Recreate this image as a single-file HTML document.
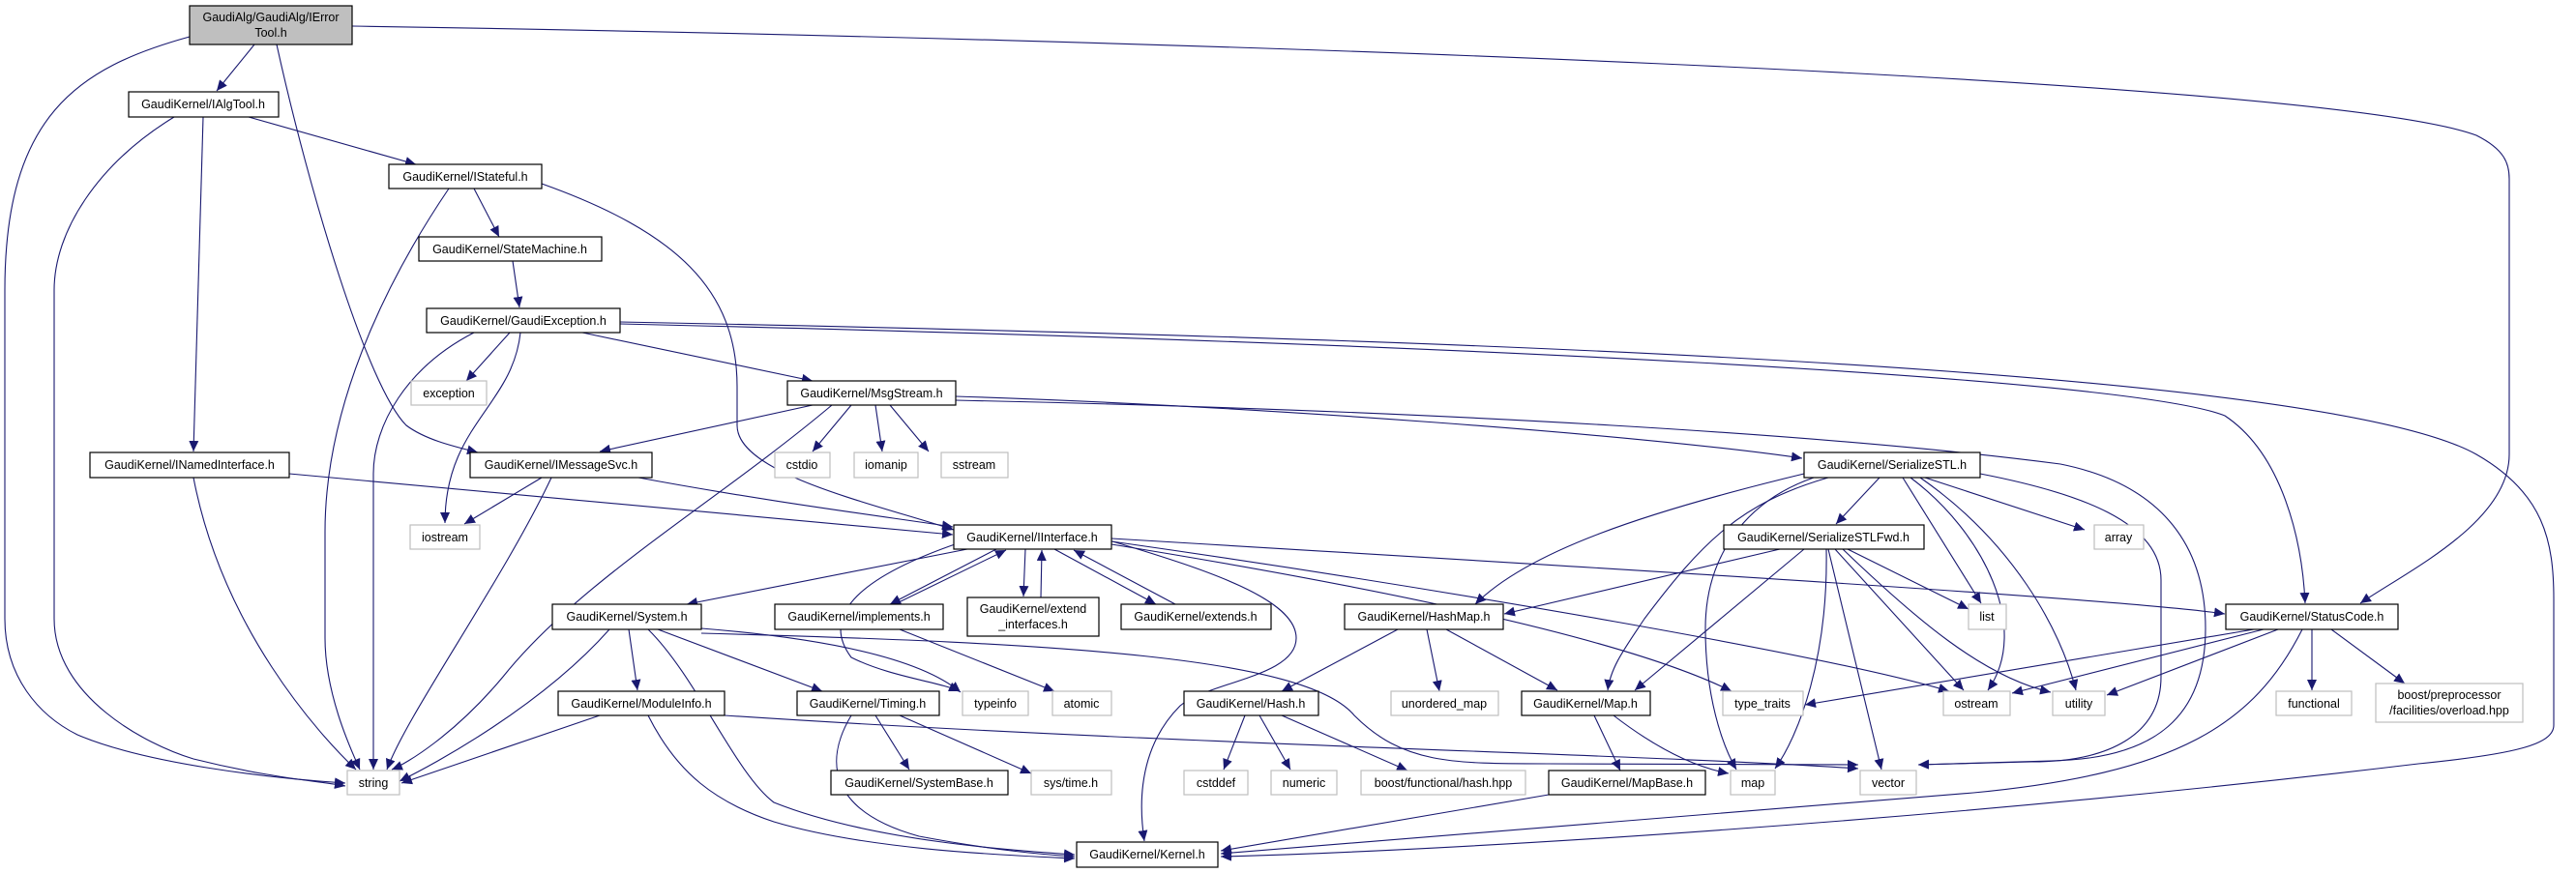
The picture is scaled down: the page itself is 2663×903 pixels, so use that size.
<!DOCTYPE html>
<html><head><meta charset="utf-8"><style>
html,body{margin:0;padding:0;background:#fff}
svg{display:block}
text{font-family:"Liberation Sans",sans-serif;font-size:12.5px;fill:#000;text-anchor:middle}
.n{fill:#fff;stroke:#000;stroke-width:1.2}
.g{fill:#fff;stroke:#bfbfbf;stroke-width:1.2}
.e{fill:none;stroke:#191970;stroke-width:1.1}
</style></head><body>
<svg width="2663" height="903" viewBox="0 0 2663 903" xmlns="http://www.w3.org/2000/svg">
<defs><marker id="a" markerUnits="userSpaceOnUse" markerWidth="12" markerHeight="10" refX="11" refY="5" orient="auto"><path d="M0,0 L11,5 L0,10 z" fill="#191970"/></marker></defs>
<g class="e" marker-end="url(#a)">
<path d="M196,38 C80,70 5,120 5,300 L5,640 C5,700 40,740 80,760 C150,790 280,805 357,810"/>
<path d="M364,27 C1200,40 2400,80 2560,140 C2590,155 2594,170 2594,185 L2594,470 C2594,540 2490,590 2440,624"/>
<path d="M263,46 L224,94"/>
<path d="M286,46 C320,200 380,400 420,440 C440,455 470,462 494,468"/>
<path d="M257,121 L430,170"/>
<path d="M210,121 L200,467"/>
<path d="M180,121 C100,170 56,240 56,300 L56,640 C56,720 150,770 200,785 C280,805 330,808 357,813"/>
<path d="M490,195 L516,245"/>
<path d="M464,195 C420,260 336,400 336,550 L336,660 C336,720 365,780 372,796"/>
<path d="M560,190 C700,240 762,300 762,400 L762,440 C762,490 900,520 986,548"/>
<path d="M530,270 L537,318"/>
<path d="M527,344 L482,394"/>
<path d="M490,344 C420,380 386,440 386,490 L386,796"/>
<path d="M538,344 C530,420 460,440 460,541"/>
<path d="M602,344 L840,394"/>
<path d="M641,333 C1500,350 2400,380 2560,470 C2630,510 2640,560 2640,620 L2640,750 C2640,770 2600,780 2500,790 C2000,850 1500,880 1262,886"/>
<path d="M641,335 C1500,355 2200,390 2300,430 C2360,470 2380,560 2383,624"/>
<path d="M840,419 L620,467"/>
<path d="M860,419 C740,520 600,600 520,700 C470,760 420,790 405,796"/>
<path d="M880,419 L840,467"/>
<path d="M905,419 L912,467"/>
<path d="M920,419 L960,467"/>
<path d="M988,410 C1300,420 1700,450 1863,474"/>
<path d="M988,414 C1500,425 1900,450 2130,480 C2230,500 2280,560 2280,650 C2280,740 2230,785 2120,787 L1983,791"/>
<path d="M2047,490 C2150,510 2234,540 2234,600 L2234,700 C2234,760 2180,788 2100,788 L1983,791"/>
<path d="M660,494 C800,520 920,535 985,545"/>
<path d="M560,494 L480,542"/>
<path d="M570,494 C520,600 420,740 400,796"/>
<path d="M299,490 L985,553"/>
<path d="M200,494 C230,650 330,760 368,796"/>
<path d="M1000,568 L710,625"/>
<path d="M1030,568 L920,625"/>
<path d="M925,625 L1040,569"/>
<path d="M1060,568 L1058,617"/>
<path d="M1076,618 L1077,569"/>
<path d="M1090,568 L1195,625"/>
<path d="M1215,625 L1110,569"/>
<path d="M990,562 C880,600 850,640 880,680 C920,700 970,705 992,715"/>
<path d="M725,650 C850,660 950,680 993,716"/>
<path d="M1150,560 C1250,590 1340,620 1340,660 C1340,700 1250,705 1220,730 C1170,780 1180,850 1183,870"/>
<path d="M1149,557 C1700,590 2200,620 2300,635"/>
<path d="M1149,560 C1500,610 1900,680 2015,715"/>
<path d="M1149,563 C1500,620 1700,670 1790,715"/>
<path d="M930,651 L1090,715"/>
<path d="M630,651 C560,730 450,790 413,808"/>
<path d="M650,651 L659,714"/>
<path d="M680,651 L850,715"/>
<path d="M670,651 C720,700 760,800 800,830 C900,870 1050,880 1111,884"/>
<path d="M725,655 C1100,665 1350,680 1400,740 C1450,790 1500,790 1600,790 L1921,791"/>
<path d="M620,740 L415,810"/>
<path d="M670,740 C700,800 740,830 800,850 C900,880 1050,885 1111,888"/>
<path d="M749,740 C1200,770 1700,780 1921,795"/>
<path d="M905,740 L940,796"/>
<path d="M930,740 L1066,800"/>
<path d="M880,740 C850,790 860,840 950,865 C1030,880 1080,884 1111,886"/>
<path d="M1943,494 L1898,542"/>
<path d="M1865,490 C1700,530 1580,570 1525,625"/>
<path d="M1890,494 C1800,520 1760,560 1700,640 C1680,670 1665,690 1662,714"/>
<path d="M1990,494 L2155,548"/>
<path d="M1967,494 L2048,624"/>
<path d="M1975,494 C2050,550 2100,650 2055,714"/>
<path d="M1985,494 C2080,560 2130,650 2146,714"/>
<path d="M1875,494 C1800,520 1763,580 1763,650 C1763,720 1780,770 1795,796"/>
<path d="M1840,568 L1555,635"/>
<path d="M1865,568 L1690,714"/>
<path d="M1910,568 L2035,630"/>
<path d="M1897,568 L2030,714"/>
<path d="M1905,568 C1980,640 2050,700 2120,716"/>
<path d="M1888,568 C1890,680 1860,760 1835,795"/>
<path d="M1890,568 L1945,796"/>
<path d="M1445,651 L1325,715"/>
<path d="M1475,651 L1488,715"/>
<path d="M1495,651 L1610,714"/>
<path d="M1287,740 L1265,796"/>
<path d="M1302,740 L1334,796"/>
<path d="M1325,740 L1455,797"/>
<path d="M1648,740 L1675,797"/>
<path d="M1668,740 C1720,780 1760,795 1787,800"/>
<path d="M1601,822 L1262,880"/>
<path d="M2340,651 L2080,717"/>
<path d="M2355,651 L2178,719"/>
<path d="M2330,651 L1866,729"/>
<path d="M2390,651 L2390,714"/>
<path d="M2410,651 L2486,707"/>
<path d="M2380,651 C2330,750 2250,800 2040,820 C1700,850 1400,870 1262,883"/>
</g>
<g>
<rect x="196" y="6" width="168" height="40" fill="#bfbfbf" stroke="#000" stroke-width="1.2"/>
<text x="280" y="22">GaudiAlg/GaudiAlg/IError</text><text x="280" y="38">Tool.h</text>
<rect class="n" x="133" y="95" width="155" height="26"/><text x="210" y="112">GaudiKernel/IAlgTool.h</text>
<rect class="n" x="402" y="170" width="158" height="25"/><text x="481" y="187">GaudiKernel/IStateful.h</text>
<rect class="n" x="433" y="245" width="189" height="25"/><text x="527" y="262">GaudiKernel/StateMachine.h</text>
<rect class="n" x="441" y="319" width="200" height="25"/><text x="541" y="336">GaudiKernel/GaudiException.h</text>
<rect class="g" x="425" y="394" width="78" height="25"/><text x="464" y="411">exception</text>
<rect class="n" x="814" y="394" width="174" height="25"/><text x="901" y="411">GaudiKernel/MsgStream.h</text>
<rect class="n" x="93" y="468" width="206" height="26"/><text x="196" y="485">GaudiKernel/INamedInterface.h</text>
<rect class="n" x="486" y="468" width="188" height="26"/><text x="580" y="485">GaudiKernel/IMessageSvc.h</text>
<rect class="g" x="801" y="468" width="57" height="26"/><text x="829" y="485">cstdio</text>
<rect class="g" x="883" y="468" width="66" height="26"/><text x="916" y="485">iomanip</text>
<rect class="g" x="973" y="468" width="69" height="26"/><text x="1007" y="485">sstream</text>
<rect class="n" x="1865" y="468" width="182" height="26"/><text x="1956" y="485">GaudiKernel/SerializeSTL.h</text>
<rect class="g" x="424" y="543" width="72" height="25"/><text x="460" y="560">iostream</text>
<rect class="n" x="986" y="543" width="163" height="25"/><text x="1067" y="560">GaudiKernel/IInterface.h</text>
<rect class="n" x="1782" y="543" width="207" height="25"/><text x="1885" y="560">GaudiKernel/SerializeSTLFwd.h</text>
<rect class="g" x="2165" y="543" width="51" height="25"/><text x="2190" y="560">array</text>
<rect class="n" x="571" y="625" width="154" height="26"/><text x="648" y="642">GaudiKernel/System.h</text>
<rect class="n" x="801" y="625" width="174" height="26"/><text x="888" y="642">GaudiKernel/implements.h</text>
<rect class="n" x="1000" y="618" width="136" height="40"/><text x="1068" y="634">GaudiKernel/extend</text><text x="1068" y="650">_interfaces.h</text>
<rect class="n" x="1159" y="625" width="155" height="26"/><text x="1236" y="642">GaudiKernel/extends.h</text>
<rect class="n" x="1390" y="625" width="164" height="26"/><text x="1472" y="642">GaudiKernel/HashMap.h</text>
<rect class="g" x="2035" y="625" width="39" height="26"/><text x="2054" y="642">list</text>
<rect class="n" x="2301" y="625" width="178" height="26"/><text x="2390" y="642">GaudiKernel/StatusCode.h</text>
<rect class="n" x="577" y="715" width="172" height="25"/><text x="663" y="732">GaudiKernel/ModuleInfo.h</text>
<rect class="n" x="824" y="715" width="147" height="25"/><text x="897" y="732">GaudiKernel/Timing.h</text>
<rect class="g" x="995" y="715" width="68" height="25"/><text x="1029" y="732">typeinfo</text>
<rect class="g" x="1088" y="715" width="61" height="25"/><text x="1118" y="732">atomic</text>
<rect class="n" x="1224" y="715" width="139" height="25"/><text x="1293" y="732">GaudiKernel/Hash.h</text>
<rect class="g" x="1438" y="715" width="111" height="25"/><text x="1493" y="732">unordered_map</text>
<rect class="n" x="1573" y="715" width="133" height="25"/><text x="1639" y="732">GaudiKernel/Map.h</text>
<rect class="g" x="1781" y="715" width="83" height="25"/><text x="1822" y="732">type_traits</text>
<rect class="g" x="2009" y="715" width="69" height="25"/><text x="2043" y="732">ostream</text>
<rect class="g" x="2122" y="715" width="54" height="25"/><text x="2149" y="732">utility</text>
<rect class="g" x="2353" y="715" width="78" height="25"/><text x="2392" y="732">functional</text>
<rect class="g" x="2456" y="707" width="152" height="40"/><text x="2532" y="723">boost/preprocessor</text><text x="2532" y="739">/facilities/overload.hpp</text>
<rect class="g" x="359" y="797" width="54" height="25"/><text x="386" y="814">string</text>
<rect class="n" x="859" y="797" width="183" height="25"/><text x="950" y="814">GaudiKernel/SystemBase.h</text>
<rect class="g" x="1066" y="797" width="83" height="25"/><text x="1107" y="814">sys/time.h</text>
<rect class="g" x="1224" y="797" width="66" height="25"/><text x="1257" y="814">cstddef</text>
<rect class="g" x="1314" y="797" width="68" height="25"/><text x="1348" y="814">numeric</text>
<rect class="g" x="1407" y="797" width="170" height="25"/><text x="1492" y="814">boost/functional/hash.hpp</text>
<rect class="n" x="1601" y="797" width="162" height="25"/><text x="1682" y="814">GaudiKernel/MapBase.h</text>
<rect class="g" x="1789" y="797" width="46" height="25"/><text x="1812" y="814">map</text>
<rect class="g" x="1923" y="797" width="58" height="25"/><text x="1952" y="814">vector</text>
<rect class="n" x="1113" y="871" width="146" height="26"/><text x="1186" y="888">GaudiKernel/Kernel.h</text>
</g>
</svg>
</body></html>
